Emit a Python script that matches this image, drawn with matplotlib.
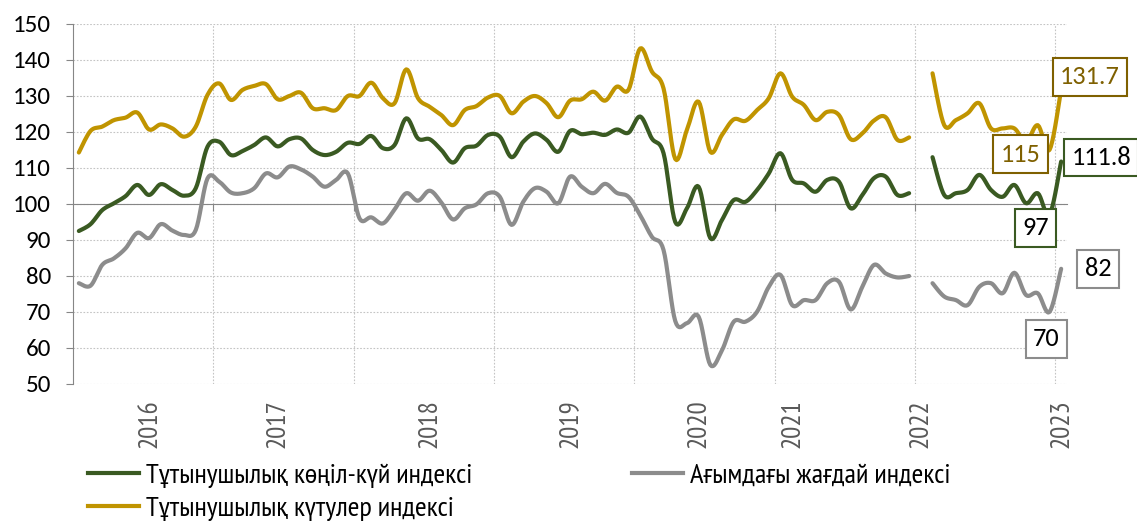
import numpy as np
import matplotlib
matplotlib.use("Agg")
import matplotlib.pyplot as plt
import matplotlib.transforms as mtransforms
from matplotlib.lines import Line2D

# monthly index values, NaN = no survey that month
sentiment = [92.5, 94.4, 98.3, 100.2, 102.2, 105.3, 102.5, 105.5, 103.9, 102.3,
             104.4, 115.9, 117.3, 113.6, 114.7, 116.4, 118.5, 116.0, 118.0, 118.2,
             115.0, 113.6, 114.5, 117.0, 116.7, 118.9, 115.5, 116.4, 123.8, 118.2,
             118.0, 115.0, 111.5, 115.5, 116.2, 119.2, 118.7, 113.0, 117.3, 119.6,
             117.8, 114.5, 120.3, 119.4, 119.8, 119.2, 120.7, 119.8, 124.3, 118.2,
             114.1, 95.0, 98.8, 104.8, 90.5, 95.6, 101.1, 100.6, 103.9, 108.5,
             114.1, 106.7, 105.7, 103.4, 106.7, 106.2, 98.8, 102.5, 107.2, 107.6,
             102.5, 103.0, np.nan, 113.0, 102.5, 103.0, 103.9, 108.1, 103.9, 102.0,
             105.3, 100.2, 103.0, 97.0, 111.8]
current = [78.0, 77.3, 83.1, 84.9, 87.7, 92.0, 90.5, 94.4, 92.6, 91.4,
           92.8, 107.1, 106.2, 103.2, 103.0, 104.4, 108.5, 107.4, 110.4, 109.6,
           107.6, 104.8, 106.7, 108.5, 96.0, 96.3, 94.6, 98.5, 103.0, 100.9,
           103.7, 100.4, 95.7, 98.8, 99.9, 103.0, 102.0, 94.2, 100.6, 104.4,
           103.4, 100.2, 107.6, 104.8, 103.0, 105.6, 103.1, 102.0, 96.9, 90.9,
           87.2, 67.5, 66.9, 68.7, 55.3, 59.4, 67.3, 67.3, 70.1, 77.0,
           80.3, 71.9, 73.3, 73.3, 78.0, 78.4, 70.7, 77.0, 83.1, 80.7,
           79.6, 80.0, np.nan, 78.0, 74.3, 73.3, 71.9, 77.0, 78.0, 75.2,
           80.9, 74.7, 75.2, 70.0, 82.0]
expect = [114.3, 120.3, 121.5, 123.3, 124.0, 125.4, 120.7, 122.1, 121.0, 118.7,
          121.5, 130.3, 133.5, 128.9, 131.7, 132.8, 133.3, 129.1, 130.0, 130.9,
          126.6, 126.6, 126.1, 130.0, 130.0, 133.7, 129.4, 128.0, 137.4, 129.4,
          127.0, 124.7, 121.9, 126.1, 127.2, 129.6, 130.0, 125.2, 128.4, 130.0,
          128.0, 124.1, 128.7, 129.1, 131.2, 128.7, 132.6, 131.7, 143.2, 136.8,
          132.1, 112.5, 120.6, 128.4, 114.5, 119.2, 123.5, 123.1, 126.1, 129.4,
          136.3, 129.8, 127.5, 123.3, 125.6, 124.7, 118.0, 119.6, 123.2, 124.1,
          117.8, 118.5, np.nan, 136.3, 121.9, 123.3, 125.2, 128.0, 121.0, 121.0,
          121.0, 117.3, 121.9, 115.0, 131.7]

year_labels = ["2016", "2017", "2018", "2019", "2020", "2021", "2022", "2023"]
year_pos = [6, 17, 30, 42, 53, 61, 72, 84]

names = ["Тұтынушылық көңіл-күй индексі",
         "Тұтынушылық күтулер индексі",
         "Ағымдағы жағдай индексі"]

GREEN = "#3a5a22"
GOLD = "#c09400"
GREY = "#8c8c8c"
DARKGOLD = "#7f6000"
AXGREY = "#868686"
NARROW = ["Liberation Sans Narrow", "Arial Narrow", "PT Sans Narrow",
          "Roboto Condensed", "Archivo Narrow", "DejaVu Sans"]
NUMS = ["Carlito", "Calibri", "Liberation Sans", "DejaVu Sans"]


def smooth(x, y, n=10):
    # excel style smoothed line (bezier, tension 1/6), split at gaps
    x = np.asarray(x, float)
    y = np.asarray(y, float)
    segs = []
    idx = np.where(~np.isnan(y))[0]
    runs = np.split(idx, np.where(np.diff(idx) > 1)[0] + 1)
    t = np.linspace(0, 1, n)
    for r in runs:
        px, py = x[r], y[r]
        xs, ys = [], []
        for i in range(len(r) - 1):
            p0 = (px[i - 1], py[i - 1]) if i > 0 else (px[i], py[i])
            p1 = (px[i], py[i])
            p2 = (px[i + 1], py[i + 1])
            p3 = (px[i + 2], py[i + 2]) if i + 2 < len(r) else p2
            c1 = (p1[0] + (p2[0] - p0[0]) / 6, p1[1] + (p2[1] - p0[1]) / 6)
            c2 = (p2[0] - (p3[0] - p1[0]) / 6, p2[1] - (p3[1] - p1[1]) / 6)
            bx = (1-t)**3*p1[0] + 3*(1-t)**2*t*c1[0] + 3*(1-t)*t**2*c2[0] + t**3*p2[0]
            by = (1-t)**3*p1[1] + 3*(1-t)**2*t*c1[1] + 3*(1-t)*t**2*c2[1] + t**3*p2[1]
            xs.extend(bx if i == 0 else bx[1:])
            ys.extend(by if i == 0 else by[1:])
        segs.append((xs, ys))
    return segs


fig = plt.figure(figsize=(11.37, 5.21), dpi=100)
ax = fig.add_axes([73/1137, 137/521, 994/1137, 360/521])

x = np.arange(len(sentiment))
for series, col in [(current, GREY), (sentiment, GREEN), (expect, GOLD)]:
    for xs, ys in smooth(x, series):
        ax.plot(xs, ys, color=col, lw=3, solid_capstyle="round", zorder=3)

ax.set_xlim(-0.5, len(x) - 0.5)
ax.set_ylim(50, 150)
ax.set_yticks(range(50, 151, 10))
ax.tick_params(axis="y", direction="out", length=5, color=AXGREY, labelsize=18, pad=11)
for lab in ax.get_yticklabels():
    lab.set_family(NUMS)

grid_x = np.arange(11.5, len(x), 12)
ax.set_xticks(grid_x)
ax.tick_params(axis="x", direction="out", length=5, color=AXGREY, labelbottom=False)
ax.grid(True, color="#c4c4c4", ls=(0, (1.5, 1.5)), lw=0.8, zorder=0)

for s in ["top", "right"]:
    ax.spines[s].set_visible(False)
ax.spines["left"].set_color(AXGREY)
ax.spines["bottom"].set_position(("data", 100))
ax.spines["bottom"].set_color(AXGREY)

trans = mtransforms.blended_transform_factory(ax.transData, ax.transAxes)
for pos, lab in zip(year_pos, year_labels):
    ax.text(pos, -0.042, lab, transform=trans, rotation=90, ha="center", va="top",
            fontsize=19.5, color="#595959", family=NARROW)


# value call-outs
def callout(i, series, text, dx, dy, tcol, ecol):
    ax.annotate(text, xy=(i, series[i]), xytext=(dx, dy), textcoords="offset pixels",
                ha="center", va="center", fontsize=19, color=tcol,
                family=NUMS, zorder=5, annotation_clip=False,
                bbox=dict(boxstyle="square,pad=0.28", fc="white", ec=ecol, lw=1.5))


last = len(x) - 1
callout(last, expect, "131.7", 29, 13, DARKGOLD, DARKGOLD)
callout(last - 1, expect, "115", -29, -4, DARKGOLD, DARKGOLD)
callout(last, sentiment, "111.8", 40, 4, "black", GREEN)
callout(last - 1, sentiment, "97", -14, -13, "black", GREEN)
callout(last, current, "82", 37, 0, "black", GREY)
callout(last - 1, current, "70", -3, -27, "black", GREY)

h_sent = Line2D([], [], color=GREEN, lw=3)
h_exp = Line2D([], [], color=GOLD, lw=3)
h_cur = Line2D([], [], color=GREY, lw=3)
leg_kw = dict(loc="upper left", frameon=False, borderpad=0, borderaxespad=0,
              handlelength=1.8, handletextpad=0.25, labelspacing=0.28,
              prop={"family": NARROW, "size": 20.5})
fig.legend([h_sent, h_exp], names[:2], bbox_to_anchor=(88/1137, 1 - 463/521), **leg_kw)
fig.legend([h_cur], names[2:], bbox_to_anchor=(632/1137, 1 - 463/521), **leg_kw)

fig.savefig("out.png", dpi=100)
